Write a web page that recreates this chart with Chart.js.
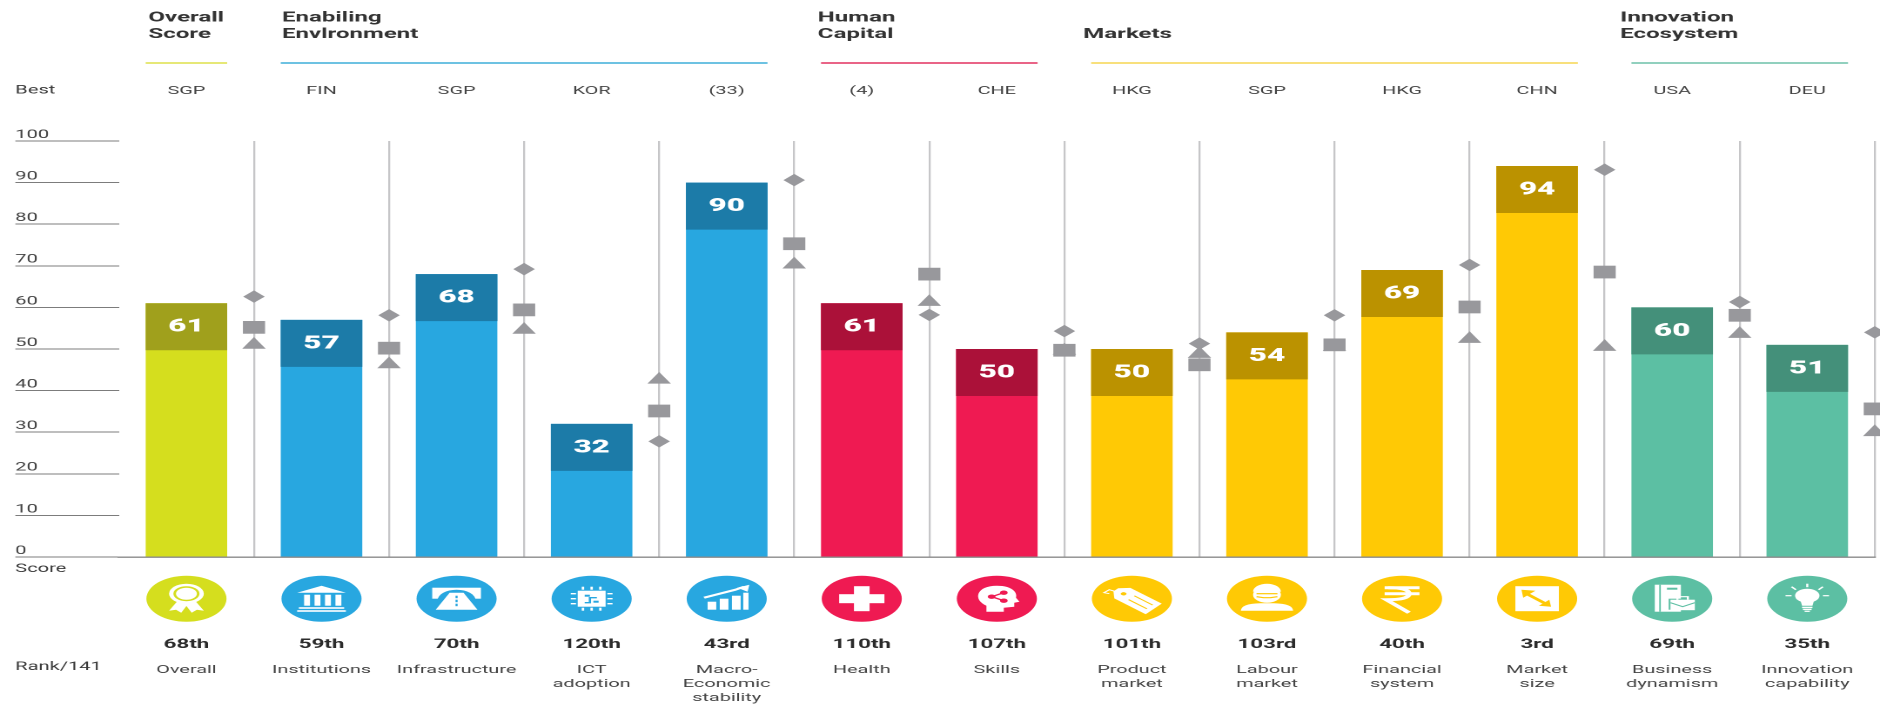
<!DOCTYPE html>
<html>
<head>
<meta charset="utf-8">
<title>Global Competitiveness Index profile</title>
<script src="https://cdn.jsdelivr.net/npm/chart.js@4"></script>
<style>
  html, body { margin: 0; padding: 0; background: #fff; overflow: hidden; width: 1880px; height: 705px; }
  #stage { width: 1086px; height: 705px; transform-origin: 0 0; transform: scaleX(1.74074); }
  #stage canvas { display: block; }
</style>
</head>
<body>
<div id="stage"><canvas id="chart" width="1086" height="705"></canvas></div>
<script>
// Pillar names, one array entry per line of the axis label
const categories = [
  ['Overall'], ['Institutions'], ['Infrastructure'], ['ICT', 'adoption'],
  ['Macro-', 'Economic', 'stability'], ['Health'], ['Skills'],
  ['Product', 'market'], ['Labour', 'market'], ['Financial', 'system'],
  ['Market', 'size'], ['Business', 'dynamism'], ['Innovation', 'capability']
];
const bestPerformers = ['SGP', 'FIN', 'SGP', 'KOR', '(33)', '(4)', 'CHE', 'HKG', 'SGP', 'HKG', 'CHN', 'USA', 'DEU'];
const scores = [61, 57, 68, 32, 90, 61, 50, 50, 54, 69, 94, 60, 51];
const ranks = ['68th', '59th', '70th', '120th', '43rd', '110th', '107th', '101th', '103rd', '40th', '3rd', '69th', '35th'];

// Comparison markers on the separators between pillars
const diamondValues = [62.6, 58.1, 69.2, 27.8, 90.6, 58.2, 54.3, 51.3, 58.1, 70.2, 93.1, 61.3, 54.0];
const squareValues = [55.2, 50.2, 59.4, 35.1, 75.3, 68.0, 49.7, 46.2, 51.0, 60.1, 68.5, 58.1, 35.6];
const triangleValues = [51.0, 46.3, 54.6, 42.6, 70.3, 61.3, 49.6, 48.8, 50.5, 52.4, 50.5, 53.6, 30.0];

// Pillar families: which bars belong together and how they are coloured
const familyOfBar = [0, 1, 1, 1, 1, 2, 2, 3, 3, 3, 3, 4, 4];
const familyTitles = [['Overall', 'Score'], ['Enabiling', 'Envlronment'], ['Human', 'Capital'], ['', 'Markets'], ['Innovation', 'Ecosystem']];
const familyBarColors = ['#d5de1e', '#28a7e0', '#ef1a52', '#ffc905', '#5cbfa3'];
const familyCapColors = ['#a0a01c', '#1c7ba8', '#ab1139', '#bb9200', '#44907a'];
const familyRuleColors = ['#dde04a', '#3daed8', '#e2305f', '#f5d651', '#6cc0a8'];
const familyTitleX = [85.3, 162, 469.8, 622.3, 930.8];

const CAP_DEPTH = 11.3;          // height of the darker block that carries the score
const MARKER_COLOR = '#98989c';
const FONT = 'Roboto, sans-serif';

function icon(ctx, index, bg) {
  const poly = (pts, color) => {
    ctx.fillStyle = color || '#fff';
    ctx.beginPath();
    pts.forEach((p, k) => k ? ctx.lineTo(p[0], p[1]) : ctx.moveTo(p[0], p[1]));
    ctx.closePath();
    ctx.fill();
  };
  const rect = (x, y, w, h, color) => { ctx.fillStyle = color || '#fff'; ctx.fillRect(x, y, w, h); };
  const disc = (x, y, r, color) => { ctx.fillStyle = color || '#fff'; ctx.beginPath(); ctx.arc(x, y, r, 0, Math.PI * 2); ctx.fill(); };
  const line = (pts, w, color) => {
    ctx.strokeStyle = color || '#fff'; ctx.lineWidth = w; ctx.lineCap = 'butt';
    ctx.beginPath();
    pts.forEach((p, k) => k ? ctx.lineTo(p[0], p[1]) : ctx.moveTo(p[0], p[1]));
    ctx.stroke();
  };
  ctx.fillStyle = '#fff';
  switch (index) {
    case 0: // award rosette
      poly([[-5, 2], [-10, 12], [-6, 11], [-3, 14], [1, 5]]);
      poly([[5, 2], [10, 12], [6, 11], [3, 14], [-1, 5]]);
      disc(0, -5, 10); disc(0, -5, 7.5, bg); disc(0, -5, 6);
      break;
    case 1: // columned institution
      poly([[0, -13], [14, -6], [-14, -6]]);
      [-10, -4, 2, 8].forEach(x => rect(x, -4, 3.4, 11));
      rect(-13, 8.5, 26, 1.6); rect(-14, 11.5, 28, 1.6);
      break;
    case 2: // road under a gantry
      rect(-14, -11, 28, 11);
      disc(0, 2, 11, bg);
      poly([[-4, -6], [4, -6], [12, 11], [-12, 11]]);
      rect(-0.6, -3, 1.2, 2.5, bg); rect(-0.6, 1, 1.2, 2.5, bg); rect(-0.6, 5, 1.2, 2.5, bg);
      break;
    case 3: // circuit chip
      rect(-8, -8, 16, 16);
      [-5, 0, 5].forEach(k => {
        rect(k - 0.7, -12, 1.4, 3); rect(k - 0.7, 9, 1.4, 3);
        rect(-12, k - 0.7, 3, 1.4); rect(9, k - 0.7, 3, 1.4);
      });
      line([[-4, 4], [-1, 4], [-1, -1], [3, -1]], 1.3, bg);
      rect(-4, -4, 3, 2, bg); rect(1, 2, 3, 2, bg);
      break;
    case 4: // rising bars and arrow
      rect(-11, 3, 5, 8); rect(-4, 0, 5, 11); rect(3, -3, 5, 14); rect(9.5, -6, 3, 17);
      line([[-13, -1], [-4, -5], [5, -9], [10, -12]], 2);
      poly([[13, -14], [12, -7], [6, -11]]);
      break;
    case 5: // medical cross
      rect(-13, -4.5, 26, 9);
      rect(-4.5, -12.5, 9, 25);
      break;
    case 6: // head with connected nodes
      ctx.beginPath();
      ctx.moveTo(-6, 13); ctx.lineTo(-6, 7);
      ctx.bezierCurveTo(-14, 1, -12, -13, 0, -13);
      ctx.bezierCurveTo(9, -13, 12, -6, 11, -1);
      ctx.lineTo(13, 3); ctx.lineTo(10, 4); ctx.lineTo(10, 8);
      ctx.lineTo(4, 9); ctx.lineTo(4, 13); ctx.closePath(); ctx.fill();
      line([[4, -6], [-3, -2], [4, 2]], 1.2, bg);
      disc(4, -6, 2.2, bg); disc(-3, -2, 2.2, bg); disc(4, 2, 2.2, bg);
      break;
    case 7: // price tag
      ctx.save();
      ctx.translate(2, 1); ctx.rotate(0.72);
      poly([[-15, -2], [-10, -7], [14, -7], [14, 7], [-10, 7], [-15, 2]]);
      disc(-9, 0, 1.6, bg);
      line([[-3, -2.5], [11, -2.5]], 0.9, bg);
      line([[-3, 2.5], [11, 2.5]], 0.9, bg);
      ctx.restore();
      line([[-9, -7], [-13, -9], [-16, -6], [-13, -5]], 1);
      break;
    case 8: // worker in a helmet
      disc(0, -4, 8);
      ctx.beginPath(); ctx.arc(0, -7, 8, Math.PI, 0); ctx.fill();
      line([[-6, -5], [6, -5]], 1.2, bg);
      line([[-6, -2], [-2, -1], [2, -1], [6, -2]], 1.2, bg);
      ctx.beginPath(); ctx.moveTo(-15, 12); ctx.quadraticCurveTo(-15, 5, -4, 4.5);
      ctx.lineTo(4, 4.5); ctx.quadraticCurveTo(15, 5, 15, 12); ctx.closePath(); ctx.fill();
      break;
    case 9: // rupee sign
      line([[-10, -11], [10, -11]], 3);
      line([[-10, -5], [10, -5]], 3);
      ctx.strokeStyle = '#fff'; ctx.lineWidth = 3;
      ctx.beginPath(); ctx.moveTo(-8, -11); ctx.quadraticCurveTo(4, -11, 4, -5);
      ctx.quadraticCurveTo(4, 1, -9, 1); ctx.lineTo(4, 14); ctx.stroke();
      break;
    case 10: // framed double arrow
      rect(-12.5, -12.5, 25, 25);
      line([[-6, -5], [6, 6]], 2.4, bg);
      poly([[-9, -9], [-1, -8], [-8, -1]], bg);
      poly([[8, 8], [1, 7], [7, 1]], bg);
      break;
    case 11: // ledger with a briefcase
      rect(-10, -14, 15, 27);
      line([[-7, -14], [-7, 13]], 0.9, bg);
      rect(-3, -11, 6, 2, bg);
      rect(-2, 0, 16, 11, bg);
      rect(-1, 1, 14, 10.5);
      line([[-1, 4], [6, 8], [13, 4]], 0.9, bg);
      line([[3, 1], [3, -2], [9, -2], [9, 1]], 1.2);
      break;
    case 12: // light bulb with rays
      disc(0, -3, 7);
      poly([[-4, 1], [4, 1], [3, 7], [-3, 7]]);
      rect(-3, 8, 6, 1.4); rect(-2.5, 10, 5, 1.4); rect(-1.5, 12, 3, 1.2);
      line([[0, -11.5], [0, -15]], 1.2);
      line([[-6.5, -9], [-9, -12]], 1.2); line([[6.5, -9], [9, -12]], 1.2);
      line([[-9, -3], [-12.5, -3]], 1.2); line([[9, -3], [12.5, -3]], 1.2);
      break;
  }
}

// Everything that sits around the plot: headings, rules, score text, icons, ranks
const annotations = {
  id: 'annotations',
  afterDatasetsDraw(chart) {
    const { ctx } = chart;
    const capMeta = chart.getDatasetMeta(0);
    const text = (str, x, y, font, color, align) => {
      ctx.font = font; ctx.fillStyle = color; ctx.textAlign = align || 'center';
      ctx.textBaseline = 'middle';
      ctx.fillText(str, x, y);
    };
    ctx.save();
    // row captions on the far left
    const leftX = 8.8;
    text('Best', leftX, 90.5, '400 11.5px ' + FONT, '#3a3a3a', 'left');
    text('Score', leftX, 569, '400 11.5px ' + FONT, '#3a3a3a', 'left');
    text('Rank/141', leftX, 667, '400 11.5px ' + FONT, '#3a3a3a', 'left');

    // family titles and coloured rules
    familyTitles.forEach((lines, fam) => {
      lines.forEach((l, k) => l && text(l, familyTitleX[fam], 18 + k * 16.5, '700 13.8px ' + FONT, '#333', 'left'));
      const members = familyOfBar.map((f, i) => f === fam ? i : -1).filter(i => i >= 0);
      const first = capMeta.data[members[0]];
      const last = capMeta.data[members[members.length - 1]];
      ctx.strokeStyle = familyRuleColors[fam];
      ctx.lineWidth = 1.4;
      ctx.beginPath();
      ctx.moveTo(first.x - first.width / 2, 63);
      ctx.lineTo(last.x + last.width / 2, 63);
      ctx.stroke();
    });

    scores.forEach((score, i) => {
      const bar = capMeta.data[i];
      const bg = familyBarColors[familyOfBar[i]];
      // score inside the dark block
      text(String(score), bar.x, bar.y + 24, '900 18px ' + FONT, '#fff');
      // pillar icon
      ctx.save();
      ctx.translate(bar.x, 598.7);
      ctx.fillStyle = bg;
      ctx.beginPath(); ctx.arc(0, 0, 23, 0, Math.PI * 2); ctx.fill();
      icon(ctx, i, bg);
      ctx.restore();
      // rank
      text(ranks[i], bar.x, 645, '700 12.8px ' + FONT, '#2b2b2b');
    });
    ctx.restore();
  }
};

const barColors = familyOfBar.map(f => familyBarColors[f]);
const capColors = familyOfBar.map(f => familyCapColors[f]);
const onSeparators = values => values.map((v, i) => ({ x: i + 1, y: v }));
const markerSet = (data, pointStyle, radius, order) => ({
  type: 'scatter', data: onSeparators(data), xAxisID: 'separators', yAxisID: 'y',
  pointStyle, pointRadius: radius, pointBackgroundColor: MARKER_COLOR,
  pointBorderWidth: 0, clip: false, order
});
// Tick padding moves the labels clear of the plot; it must not eat into the plot width
const fitBand = height => scale => {
  scale.height = height;
  scale.paddingLeft = 0;
  scale.paddingRight = 0;
};

new Chart(document.getElementById('chart'), {
  type: 'bar',
  plugins: [annotations],
  data: {
    labels: categories,
    datasets: [
      { label: 'Score block', data: scores.map(s => [s - CAP_DEPTH, s]), backgroundColor: capColors,
        grouped: false, barPercentage: 1, categoryPercentage: 0.6035, order: 1 },
      { label: 'Score', data: scores, backgroundColor: barColors,
        grouped: false, barPercentage: 1, categoryPercentage: 0.6035, order: 2 },
      markerSet(squareValues, 'rect', 9, 0),
      markerSet(diamondValues, 'rectRot', 6.2, 0.1),
      markerSet(triangleValues, 'triangle', 7.8, 0.2)
    ]
  },
  options: {
    responsive: false,
    devicePixelRatio: 2,
    animation: false,
    events: [],
    layout: { padding: { left: 8.8, right: 3.4, top: 0, bottom: 0 } },
    plugins: { legend: { display: false }, tooltip: { enabled: false } },
    scales: {
      x: {
        type: 'category', position: 'bottom', offset: true,
        afterFit: fitBand(148),
        grid: {
          offset: true, drawTicks: false, tickLength: 0, lineWidth: 1.15,
          color: c => c.index === 0 ? 'rgba(0,0,0,0)' : '#c6c6c8'
        },
        border: { color: '#8a8a8a', width: 1.4 },
        ticks: {
          autoSkip: false, maxRotation: 0, minRotation: 0, padding: 106,
          color: '#444', font: { family: FONT, size: 11.4, lineHeight: 1.23 }
        }
      },
      best: {
        type: 'category', position: 'top', offset: true, labels: bestPerformers,
        afterFit: fitBand(141),
        grid: { display: false, drawTicks: false, tickLength: 0 },
        border: { display: false },
        ticks: {
          autoSkip: false, maxRotation: 0, minRotation: 0, padding: 43,
          color: '#444', font: { family: FONT, size: 11.4 }
        }
      },
      separators: { type: 'linear', position: 'bottom', display: false, offset: false, min: 0, max: 13 },
      y: {
        type: 'linear', position: 'left', min: 0, max: 100,
        afterFit: s => { s.width = 59.5; },
        grid: { drawOnChartArea: false, drawTicks: true, tickLength: 59.5, tickColor: '#7c7c7c', tickWidth: 1 },
        border: { display: false },
        ticks: {
          stepSize: 10, crossAlign: 'far', labelOffset: -6, padding: 0,
          color: '#444', font: { family: FONT, size: 11.5 }
        }
      }
    }
  }
});
</script>
</body>
</html>
